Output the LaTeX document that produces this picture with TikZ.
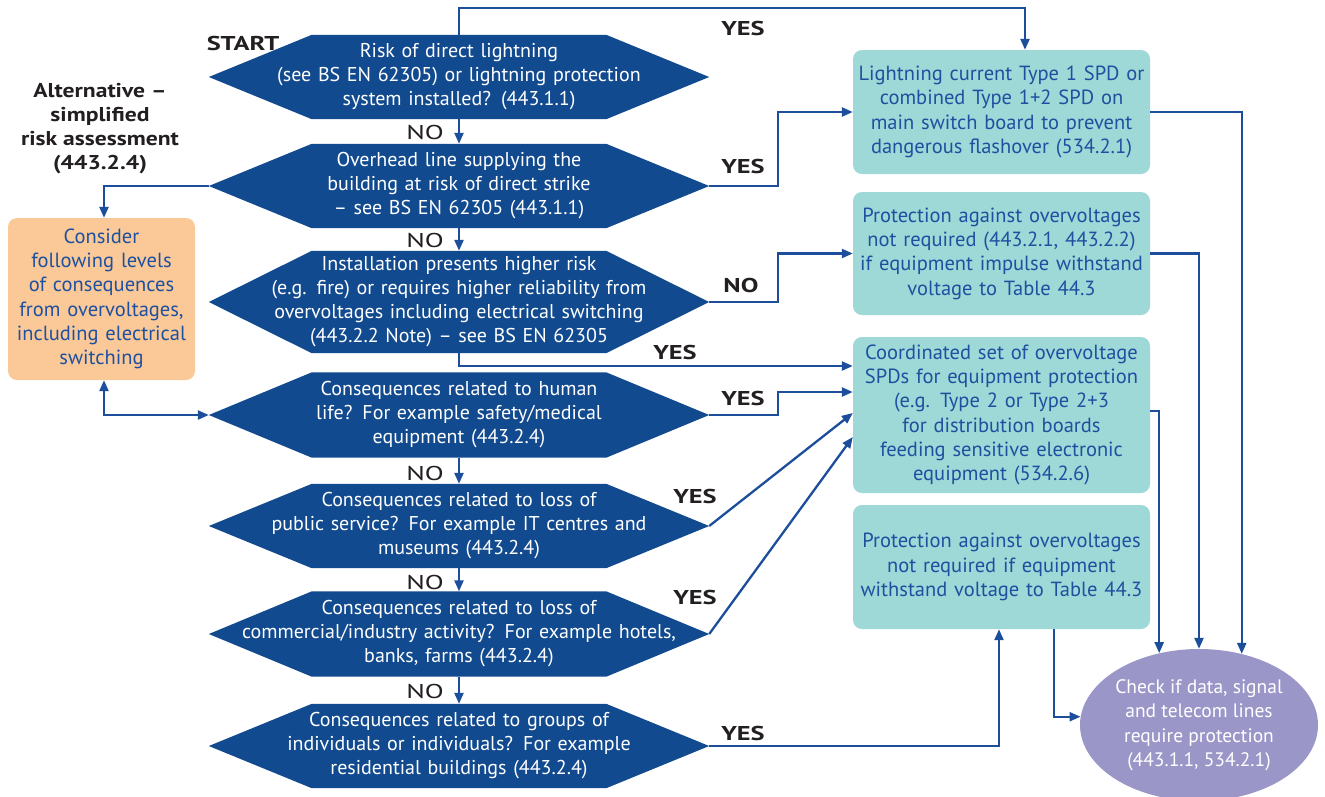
\documentclass[tikz,border=0pt]{standalone}
\usepackage{fontspec}
\setmainfont{PT Sans}
\newfontfamily\labfont[FakeStretch=1.32]{PT Sans}
\newfontfamily\nofont[FakeStretch=1.38]{PT Sans}
\newfontfamily\altfont[FakeStretch=1.18]{PT Sans}
\usetikzlibrary{arrows.meta,backgrounds,calc,shapes.geometric}
\definecolor{hexblue}{RGB}{18,74,143}
\definecolor{tealbox}{RGB}{158,216,215}
\definecolor{orangebox}{RGB}{251,200,151}
\definecolor{purplebox}{RGB}{155,150,200}
\definecolor{lineblue}{RGB}{28,78,155}
\definecolor{textblue}{RGB}{30,80,160}
\definecolor{labblack}{RGB}{35,31,32}
\newcommand\hexfill[1]{\fill[hexblue] (#1.west) -- ([xshift=103pt]#1.north west) -- ([xshift=-103pt]#1.north east) -- (#1.east) -- ([xshift=-103pt]#1.south east) -- ([xshift=103pt]#1.south west) -- cycle;}
\begin{document}
\begin{tikzpicture}[x=1pt,y=-1pt,
  txt/.style={font=\fontsize{20}{24}\selectfont},
  btxt/.style={font=\fontsize{20.5}{24.3}\selectfont},
  hexnode/.style={txt, minimum width=500pt, inner sep=0pt, text width=470pt, align=center, text=white},
  tbox/.style={btxt, fill=tealbox, rounded corners=9pt, minimum width=297pt, text width=296pt, align=center, inner sep=0pt, text=textblue},
  lab/.style={font=\labfont\fontsize{20}{24}\selectfont\bfseries, text=labblack, inner sep=0pt},
  nolab/.style={font=\nofont\fontsize{20}{24}\selectfont, text=labblack, inner sep=0pt},
  arr/.style={draw=lineblue, line width=2.3pt, -{Triangle[length=11pt,width=9pt]}},
  darr/.style={draw=lineblue, line width=2.3pt, {Triangle[length=11pt,width=9pt]}-{Triangle[length=11pt,width=9pt]}}]
\useasboundingbox (0,0) rectangle (1325,796);
% hexagons
\node[hexnode, minimum height=84pt] (h1) at (459,77) {Risk of direct lightning\\(see BS EN 62305) or lightning protection\\system installed? (443.1.1)};
\node[hexnode, minimum height=84pt] (h2) at (459,186) {Overhead line supplying the\\building at risk of direct strike\\– see BS EN 62305 (443.1.1)};
\node[hexnode, minimum height=102pt] (h3) at (459,302) {Installation presents higher risk\\(e.g. fire) or requires higher reliability from\\overvoltages including electrical switching\\(443.2.2 Note) – see BS EN 62305};
\node[hexnode, minimum height=85pt] (h4) at (459,415) {Consequences related to human\\life? For example safety/medical\\equipment (443.2.4)};
\node[hexnode, minimum height=84pt] (h5) at (459,526) {Consequences related to loss of\\public service? For example IT centres and\\museums (443.2.4)};
\node[hexnode, minimum height=85pt] (h6) at (459,634) {Consequences related to loss of\\commercial/industry activity? For example hotels,\\banks, farms (443.2.4)};
\node[hexnode, minimum height=84pt] (h7) at (459,746) {Consequences related to groups of\\individuals or individuals? For example\\residential buildings (443.2.4)};
\begin{scope}[on background layer]
\hexfill{h1}\hexfill{h2}\hexfill{h3}\hexfill{h4}\hexfill{h5}\hexfill{h6}\hexfill{h7}
\end{scope}
% boxes
\node[tbox, minimum height=124pt] (b1) at (1001.5,112) {Lightning current Type 1 SPD or\\combined Type 1+2 SPD on\\main switch board to prevent\\dangerous flashover (534.2.1)};
\node[tbox, minimum height=123pt] (b2) at (1001.5,253.5) {Protection against overvoltages\\not required (443.2.1, 443.2.2)\\if equipment impulse withstand\\voltage to Table 44.3};
\node[tbox, minimum height=156pt] (b3) at (1001.5,415) {Coordinated set of overvoltage\\SPDs for equipment protection\\(e.g. Type 2 or Type 2+3\\for distribution boards\\feeding sensitive electronic\\equipment (534.2.6)};
\node[tbox, minimum height=124pt] (b4) at (1001.5,567) {Protection against overvoltages\\not required if equipment\\withstand voltage to Table 44.3};
\node[btxt, fill=orangebox, rounded corners=9pt, minimum width=187pt, minimum height=162pt, text width=187pt, align=center, inner sep=0pt, text=textblue] (or) at (101.5,299) {Consider\\following levels\\of consequences\\from overvoltages,\\including electrical\\switching};
\node[ellipse, fill=purplebox, minimum width=238pt, minimum height=152pt, inner sep=0pt,
  label={[font=\fontsize{19.5}{24.5}\selectfont, text=white, align=center]center:Check if data, signal\\and telecom lines\\require protection\\(443.1.1, 534.2.1)}] (e) at (1199,725) {};
% side labels
\node[lab] (start) at (243,43) {START};
\node[lab, align=center, font=\altfont\fontsize{20}{24}\selectfont\bfseries] (alt) at (100,129) {Alternative –\\simplified\\risk assessment\\(443.2.4)};
\node[lab] (y1) at (743,28) {YES};
\node[lab] (y2) at (743,166) {YES};
\node[lab] (n3) at (741,285) {NO};
\node[lab] (y3) at (675,352) {YES};
\node[lab] (y4) at (743,398) {YES};
\node[lab] (y5) at (695,496) {YES};
\node[lab] (y6) at (695,597) {YES};
\node[lab] (y7) at (743,733) {YES};
\node[nolab] (n1) at (425,132) {NO};
\node[nolab] (n2) at (425,240) {NO};
\node[nolab] (n4) at (425,473) {NO};
\node[nolab] (n5) at (425,582) {NO};
\node[nolab] (n6) at (425,691) {NO};
% connectors
\draw[arr] (h1.south) -- (h2.north);
\draw[arr] (h2.south) -- (h3.north);
\draw[arr] (h4.south) -- (h5.north);
\draw[arr] (h5.south) -- (h6.north);
\draw[arr] (h6.south) -- (h7.north);
\draw[arr] (h1.north) -- ++(0,-27) -| ([xshift=23.5pt]b1.north);
\draw[arr] (h2.east) -- ++(69,0) |- (b1.west);
\draw[arr] (h3.east) -- ++(69,0) |- (b2.west);
\draw[arr] (h3.south) |- ([yshift=49pt]b3.west);
\draw[arr] (h4.east) -- ++(69,0) |- ([yshift=23pt]b3.west);
\draw[arr] (h5.east) -- ([yshift=2pt]b3.west);
\draw[arr] (h6.east) -- ([yshift=-22pt]b3.west);
\draw[arr] (h7.east) -| ([xshift=-2.5pt]b4.south);
\draw[arr] (h2.west) -| ([xshift=2.5pt]or.north);
\draw[darr] ([xshift=2.5pt]or.south) |- (h4.west);
\draw[arr] (b1.east) -| (e.59.4);
\draw[arr] (b2.east) -| (e.north);
\draw[arr] ([yshift=4pt]b3.east) -| (e.119.2);
\draw[arr] ([xshift=52.5pt]b4.south) |- (e.176);
\end{tikzpicture}
\end{document}
